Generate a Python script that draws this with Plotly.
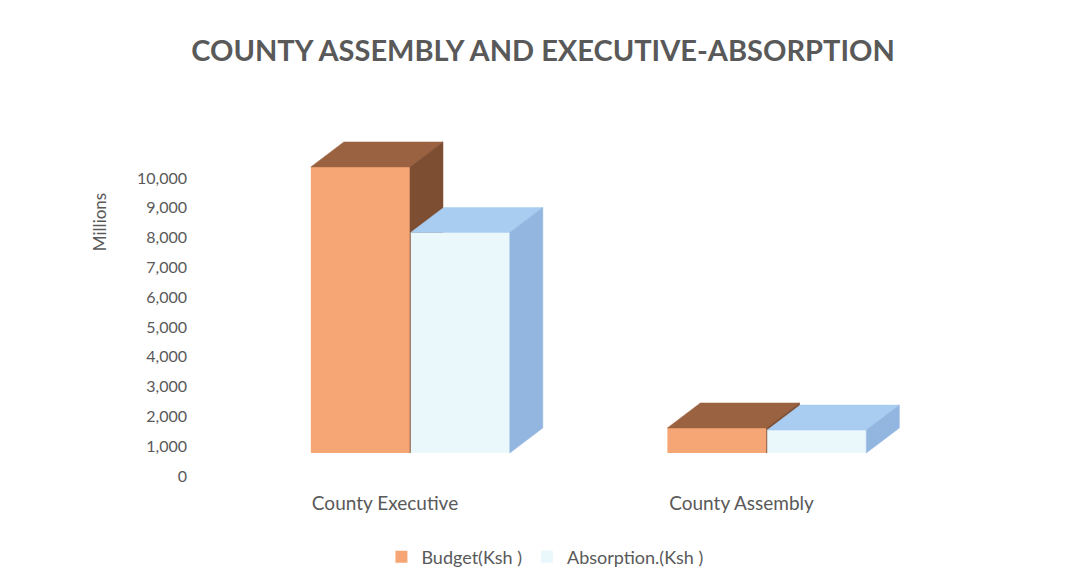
import plotly.graph_objects as go

# ---- data (Ksh, millions) ----
categories = ["County Executive", "County Assembly"]
budget = [9600, 840]
absorption = [7400, 770]
series_names = ["Budget(Ksh )", "Absorption.(Ksh )"]
tick_values = [0, 1000, 2000, 3000, 4000, 5000, 6000, 7000, 8000, 9000, 10000]
tick_labels = [f"{v:,}" for v in tick_values]

# ---- 3-D column geometry (front face + receding depth) ----
BAR_W = 0.278
OFFSETS = [-0.208, 0.072]
DEPTH_X = 0.0926
DEPTH_Y = 839

PALETTES = [
    {"front": "#F6A675", "top": "#9A6240", "side": "#7E4E33"},
    {"front": "#EAF7FB", "top": "#A9CCF1", "side": "#93B6E1"},
]
TEXT = "#595959"
FONT = "Lato"

pos = list(range(len(categories)))


def column_faces(values, offset):
    """Polygons for the top and right-hand side of each column."""
    top_x, top_y, side_x, side_y = [], [], [], []
    for p, v in zip(pos, values):
        x0 = p + offset
        x1 = x0 + BAR_W
        top_x += [x0, x0 + DEPTH_X, x1 + DEPTH_X, x1, x0, None]
        top_y += [v, v + DEPTH_Y, v + DEPTH_Y, v, v, None]
        side_x += [x1, x1 + DEPTH_X, x1 + DEPTH_X, x1, x1, None]
        side_y += [0, DEPTH_Y, v + DEPTH_Y, v, 0, None]
    return top_x, top_y, side_x, side_y


fig = go.Figure()

for k, (name, values) in enumerate(zip(series_names, [budget, absorption])):
    pal = PALETTES[k]
    z = k + 1
    fig.add_trace(go.Bar(
        x=pos, y=values, name=name,
        width=BAR_W, offset=OFFSETS[k],
        marker=dict(color=pal["front"], line=dict(width=0)),
        zorder=z, hoverinfo="skip",
    ))
    tx, ty, sx, sy = column_faces(values, OFFSETS[k])
    for fx, fy, col in [(tx, ty, pal["top"]), (sx, sy, pal["side"])]:
        fig.add_trace(go.Scatter(
            x=fx, y=fy, mode="lines", fill="toself",
            fillcolor=col, line=dict(color=col, width=0.5),
            showlegend=False, hoverinfo="skip", zorder=z,
        ))

# back-wall value axis (labels sit on the wall behind the columns)
fig.add_trace(go.Scatter(x=[], y=[], yaxis="y2", showlegend=False, hoverinfo="skip"))

fig.update_layout(
    width=1069, height=586,
    paper_bgcolor="white", plot_bgcolor="white",
    margin=dict(l=188, r=100, t=130, b=96),
    barmode="overlay",
    font=dict(family=FONT, color=TEXT),
    title=dict(
        text="<b>COUNTY ASSEMBLY AND EXECUTIVE-ABSORPTION</b>",
        x=0.508, xanchor="center", y=1 - 51 / 586, yanchor="middle",
        font=dict(family=FONT, size=29, color=TEXT),
    ),
    xaxis=dict(
        range=[-0.5526, 1.638], tickvals=pos, ticktext=categories,
        showgrid=False, zeroline=False, showline=False,
        tickfont=dict(size=19, color=TEXT),
    ),
    yaxis=dict(range=[-1242, 10839], visible=False, fixedrange=True),
    yaxis2=dict(
        overlaying="y", anchor="x", side="left",
        range=[-470, 11611], tickvals=tick_values, ticktext=tick_labels,
        showgrid=False, zeroline=False, showline=False,
        tickfont=dict(size=16, color=TEXT),
    ),
    annotations=[dict(
        text="Millions", textangle=-90, showarrow=False,
        xref="paper", yref="paper", x=-0.114, y=0.744,
        xanchor="center", yanchor="middle",
        font=dict(size=17, color=TEXT),
    )],
    legend=dict(
        orientation="h", x=0.457, xanchor="center",
        yref="container", y=1 - 557 / 586, yanchor="middle",
        font=dict(size=18, color=TEXT),
        itemwidth=30, traceorder="normal",
    ),
)

fig.write_html("out.html")
